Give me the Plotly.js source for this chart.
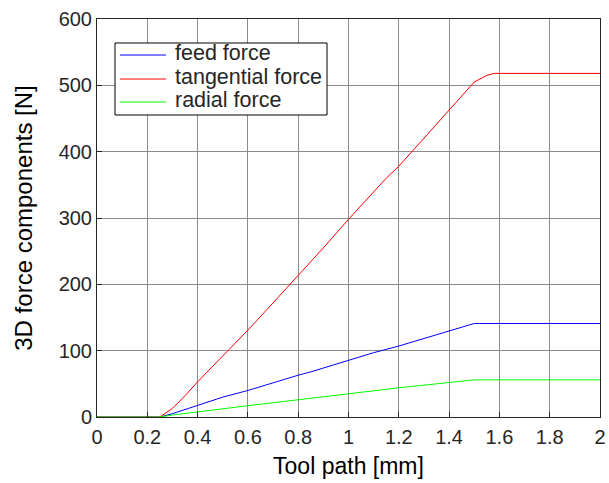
<!DOCTYPE html>
<html><head><meta charset="utf-8">
<script src="https://cdn.plot.ly/plotly-3.0.1.min.js"></script>
<style>body{margin:0;background:#fff}#chart{width:609px;height:483px}</style>
</head><body><div id="chart"></div>
<script>
const feedX = [0, 0.25, 0.3, 0.4, 0.5, 0.6, 0.7, 0.8, 0.85, 1.0, 1.1, 1.2, 1.3, 1.4, 1.5, 1.52, 2.0];
const feedY = [0, 0, 5, 17, 30, 40, 52, 63, 68, 85, 97, 107, 118, 130, 141, 141, 141];
const tangX = [0, 0.25, 0.3, 0.35, 0.4, 0.5, 0.6, 0.7, 0.8, 0.85, 0.9, 1.0, 1.1, 1.15, 1.2, 1.3, 1.4, 1.5, 1.55, 1.58, 2.0];
const tangY = [0, 0, 13, 32, 53, 92, 131, 172, 213, 233, 255, 298, 340, 360, 378, 420, 463, 505, 515, 518, 518];
const radX = [0, 0.25, 0.3, 0.4, 0.5, 0.6, 0.8, 1.0, 1.2, 1.5, 2.0];
const radY = [0, 0, 3, 8, 13, 17, 26, 35, 44, 56, 56];
const names = ['feed force', 'tangential force', 'radial force'];
const colors = ['#0000ff', '#ff0000', '#00ff00'];
const xTicks = [0, 0.2, 0.4, 0.6, 0.8, 1, 1.2, 1.4, 1.6, 1.8, 2];
const yTicks = [0, 100, 200, 300, 400, 500, 600];

const FONT = 'Liberation Sans, Arial, sans-serif';
const series = [[feedX, feedY], [tangX, tangY], [radX, radY]];
const data = series.map((s, i) => ({x: s[0], y: s[1], name: names[i], mode: 'lines',
  line: {color: colors[i], width: 1}, showlegend: false}));

// legend drawn in paper coordinates (box + sample lines + labels)
const legRowY = [0.9095, 0.8492, 0.7915];
const shapes = [{type: 'rect', xref: 'paper', yref: 'paper', x0: 0.0358, x1: 0.4573, y0: 0.7588, y1: 0.9397,
  line: {color: '#000', width: 1}, fillcolor: '#fff', layer: 'above'}];
const annotations = [];
names.forEach((n, i) => {
  shapes.push({type: 'line', xref: 'paper', yref: 'paper', x0: 0.0457, x1: 0.1372, y0: legRowY[i], y1: legRowY[i],
    line: {color: colors[i], width: 1}, layer: 'above'});
  annotations.push({xref: 'paper', yref: 'paper', x: 0.1511, y: legRowY[i] + 0.004, xanchor: 'left', yanchor: 'middle',
    text: n, showarrow: false, font: {family: FONT, size: 21.5, color: '#262626'}});
});

const axisCommon = {
  showline: true, mirror: true, linecolor: '#262626', linewidth: 1,
  showgrid: true, gridcolor: '#8c8c8c', gridwidth: 1,
  ticks: 'inside', ticklen: 5, tickcolor: '#262626', zeroline: false,
  tickfont: {family: FONT, size: 20, color: '#262626'}
};
const layout = {
  width: 609, height: 483,
  margin: {l: 97, r: 9, t: 19, b: 66},
  paper_bgcolor: '#fff', plot_bgcolor: '#fff',
  showlegend: false,
  shapes: shapes, annotations: annotations,
  xaxis: Object.assign({}, axisCommon, {range: [0, 2], tickvals: xTicks, ticktext: xTicks.map(String), ticklabelstandoff: 2,
    title: {text: 'Tool path [mm]', font: {family: FONT, size: 23, color: '#000'}, standoff: 10}}),
  yaxis: Object.assign({}, axisCommon, {range: [0, 600], tickvals: yTicks,
    title: {text: '3D force components [N]', font: {family: FONT, size: 24, color: '#000'}, standoff: 19}})
};
Plotly.newPlot('chart', data, layout, {displayModeBar: false, staticPlot: true});
</script></body></html>
